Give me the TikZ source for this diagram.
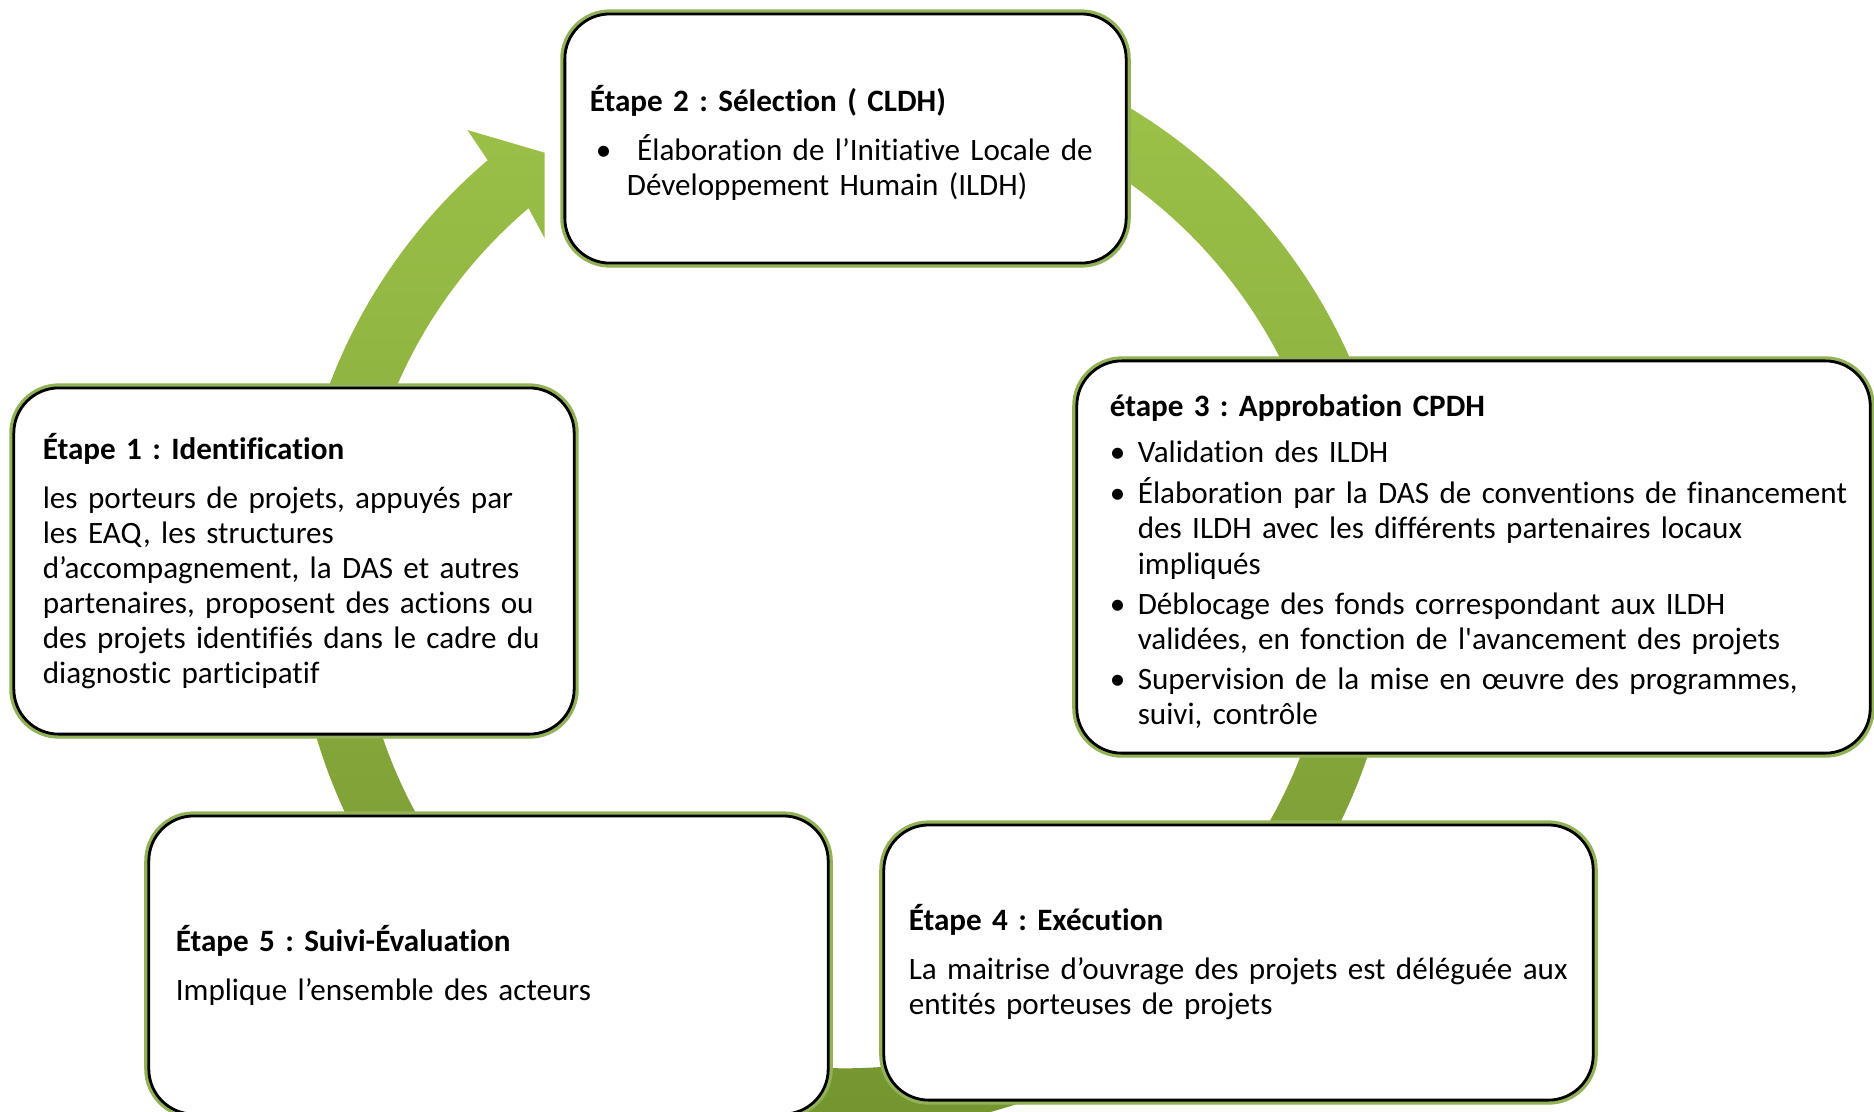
\documentclass[tikz,border=0pt]{standalone}
\usepackage{fontspec}
\setmainfont{Carlito}[Ligatures={TeX,NoCommon}]
\usepackage{tikz}
\usetikzlibrary{calc, shadows}

\definecolor{ringlight}{RGB}{158,196,74}
\definecolor{ringmid}{RGB}{142,180,62}
\definecolor{ringdark}{RGB}{116,148,48}
\definecolor{boxglow}{RGB}{146,178,86}

\begin{document}
\frenchspacing
\begin{tikzpicture}[x=0.01cm, y=-0.01cm,
        font=\fontsize{8.85}{9.96}\selectfont,
        stepbox/.style={draw=black, line width=0.8pt, fill=white, rounded corners=0.45cm,
            align=left, inner ysep=0pt, outer sep=0pt,
            drop shadow={shadow xshift=0.8pt, shadow yshift=-1.2pt, opacity=0.3},
            preaction={draw=boxglow, line width=2.6pt}},
        ring/.style={top color=ringlight, middle color=ringmid, bottom color=ringdark}]

        \useasboundingbox (0,0) rectangle (1874,1111);

        % Cycle ring (drawn first, behind the boxes)
        \coordinate (ctr) at (845,580);
        \shade[ring] ($(ctr)+(90:5.51cm)$) arc[start angle=90, end angle=-229.6, radius=5.51cm]
            -- ($(ctr)+(-230:5.87cm)$)
            -- ($(ctr)+(-234.9:5.22cm)$)
            -- ($(ctr)+(-228.7:4.55cm)$)
            -- ($(ctr)+(-229.6:4.88cm)$)
            arc[start angle=-229.6, end angle=90, radius=4.88cm] -- cycle;

        % Step boxes
        \node[stepbox, inner xsep=0.25cm, text width=5.11cm, minimum height=2.49cm] (select) at (845.5,138.5)
            {\rule{0pt}{0.40cm}{\bfseries Étape 2 : Sélection ( CLDH)}\\[0.14cm]
             \begin{tabular}[t]{@{}p{0.37cm}@{}l@{}}
             \hspace{0.06cm}\textbullet & \ Élaboration de l’Initiative Locale de\\
             & Développement Humain (ILDH)
             \end{tabular}};

        \node[stepbox, inner xsep=0.29cm, text width=5.02cm, minimum height=3.46cm] (ident) at (294,561)
            {{\bfseries Étape 1 : Identification}\\[0.14cm]
             les porteurs de projets, appuyés par\\
             les EAQ, les structures\\
             d’accompagnement, la DAS et autres\\
             partenaires, proposent des actions ou\\
             des projets identifiés dans le cadre du\\
             diagnostic participatif};

        \node[stepbox, inner xsep=0.33cm, text width=7.27cm, minimum height=3.92cm] (approb) at (1473.5,557)
            {\rule{0pt}{0.37cm}{\bfseries étape 3 : Approbation CPDH}\\[0.11cm]
             \begin{tabular}[t]{@{}p{0.28cm}@{}l@{}}
             \textbullet & Validation des ILDH\\[0.05cm]
             \textbullet & Élaboration par la DAS de conventions de financement\\
             & des ILDH avec les différents partenaires locaux\\
             & impliqués\\[0.05cm]
             \textbullet & Déblocage des fonds correspondant aux ILDH\\
             & validées, en fonction de l\textquotesingle avancement des projets\\[0.05cm]
             \textbullet & Supervision de la mise en œuvre des programmes,\\
             & suivi, contrôle
             \end{tabular}};

        \node[stepbox, inner xsep=0.27cm, text width=6.25cm, minimum height=2.98cm] (suivi) at (488.5,965)
            {{\bfseries Étape 5 : Suivi-Évaluation}\\[0.14cm]
             Implique l’ensemble des acteurs};

        \node[stepbox, inner xsep=0.25cm, text width=6.59cm, minimum height=2.75cm] (exec) at (1238.5,962.5)
            {{\bfseries Étape 4 : Exécution}\\[0.14cm]
             La maitrise d’ouvrage des projets est déléguée aux\\
             entités porteuses de projets};
    \end{tikzpicture}
\end{document}
